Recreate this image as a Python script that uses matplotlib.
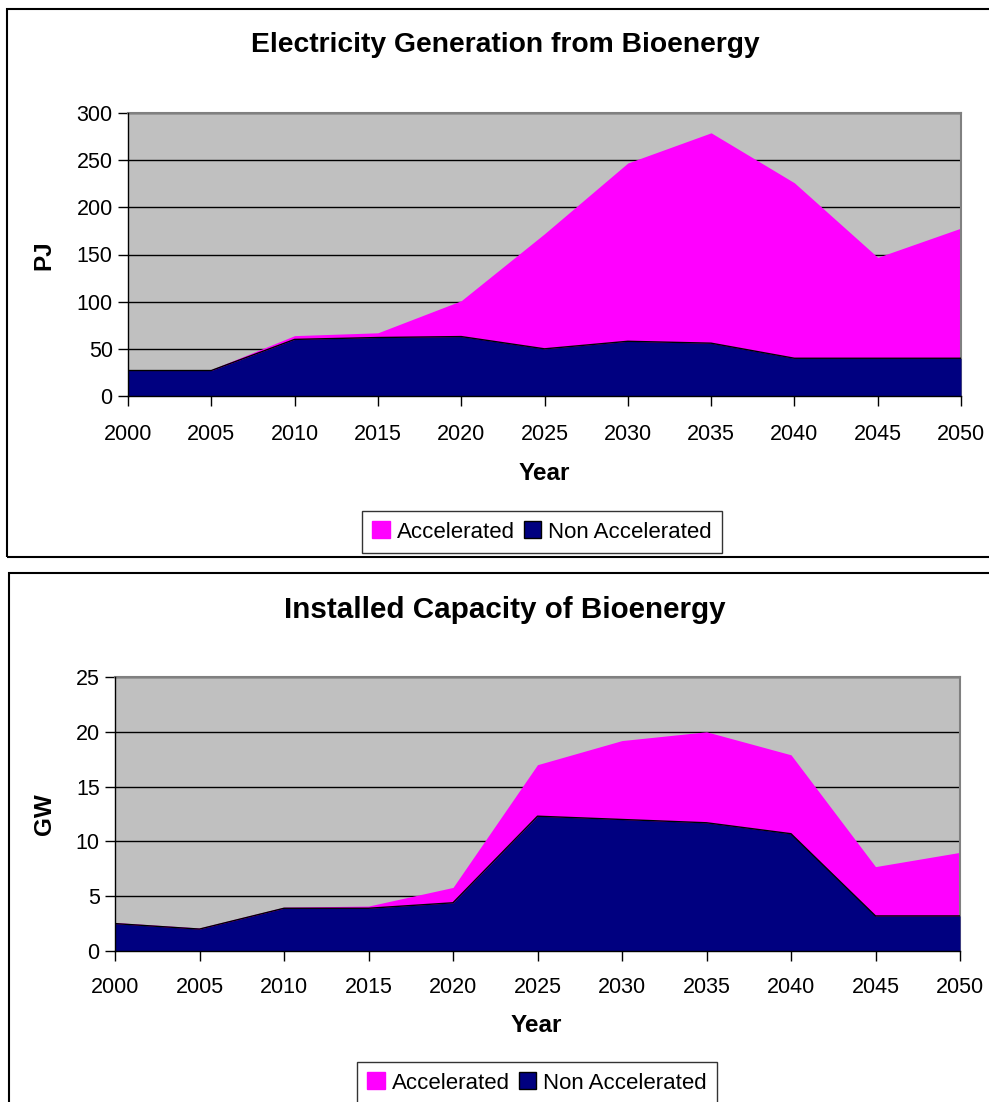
import matplotlib
matplotlib.use("Agg")
import matplotlib.pyplot as plt
from matplotlib.patches import Rectangle, Patch

plt.rcParams['font.family'] = ['Liberation Sans', 'DejaVu Sans']

years = [2000, 2005, 2010, 2015, 2020, 2025, 2030, 2035, 2040, 2045, 2050]

# Electricity generation (PJ)
gen_accelerated = [28, 28, 64, 67, 101, 172, 247, 279, 226, 147, 178]
gen_non_accelerated = [27, 27, 60, 62, 63, 50, 58, 56, 40, 40, 40]

# Installed capacity (GW)
cap_accelerated = [2.6, 2.1, 4.0, 4.1, 5.8, 17.0, 19.2, 20.0, 17.9, 7.7, 9.0]
cap_non_accelerated = [2.5, 2.0, 3.9, 3.9, 4.4, 12.3, 12.0, 11.7, 10.7, 3.2, 3.2]

W, H = 989, 1102
fig = plt.figure(figsize=(W / 100, H / 100), dpi=100)

MAG = '#FF00FF'
NAVY = '#000080'
GREY = '#C0C0C0'


def fx(px):
    return px / W


def fy(py):
    return 1 - py / H


def add_frame(x0, y0, x1, y1):
    fig.patches.append(Rectangle((fx(x0), fy(y1)), fx(x1) - fx(x0), fy(y0) - fy(y1),
                                 transform=fig.transFigure, fill=False,
                                 edgecolor='black', linewidth=1.5, zorder=0))


def panel(box, acc, non, ymax, ystep, ylabel, title, title_y, title_size, ylabel_x, ylabel_y,
          xlabel_y, xlabel_x, leg_center, tick_pad_y):
    l, t, r, b = box
    ax = fig.add_axes([fx(l), fy(b), fx(r) - fx(l), fy(t) - fy(b)])
    ax.set_facecolor(GREY)
    ax.fill_between(years, 0, acc, color=MAG, linewidth=0, zorder=2)
    ax.fill_between(years, 0, non, color=NAVY, linewidth=0, zorder=3)
    ax.plot(years, non, color='black', linewidth=1.0, zorder=4)
    ax.set_xlim(2000, 2050)
    ax.set_ylim(0, ymax)
    ax.set_xticks(years)
    ax.set_yticks([i * ystep for i in range(int(round(ymax / ystep)) + 1)])
    ax.yaxis.grid(True, color='black', linewidth=1.0, zorder=1)
    ax.set_axisbelow(True)
    for s in ['top', 'right']:
        ax.spines[s].set_color('#808080')
        ax.spines[s].set_linewidth(1.5)
    for s in ['left', 'bottom']:
        ax.spines[s].set_color('black')
        ax.spines[s].set_linewidth(1.0)
        ax.spines[s].set_zorder(5)
    ax.tick_params(axis='both', direction='out', length=7, width=1, labelsize=15.5, colors='black')
    ax.tick_params(axis='x', pad=tick_pad_y)
    ax.tick_params(axis='y', pad=4)
    fig.text(fx(505), fy(title_y), title, ha='center', va='center', fontsize=title_size,
             fontweight='bold')
    fig.text(fx(ylabel_x), fy(ylabel_y), ylabel, ha='center', va='center', rotation=90,
             fontsize=17.5, fontweight='bold')
    fig.text(fx(xlabel_x), fy(xlabel_y), 'Year', ha='center', va='center', fontsize=17.5,
             fontweight='bold')
    handles = [Patch(facecolor=MAG, edgecolor=MAG), Patch(facecolor=NAVY, edgecolor='black')]
    leg = fig.legend(handles, ['Accelerated', 'Non Accelerated'], loc='center',
                     bbox_to_anchor=(fx(leg_center[0]), fy(leg_center[1])), ncol=2,
                     fontsize=16, frameon=True, fancybox=False, edgecolor='black',
                     handlelength=0.8, handleheight=0.8, handletextpad=0.3, columnspacing=0.4,
                     borderpad=0.45, borderaxespad=0)
    leg.get_frame().set_linewidth(1.0)
    return ax


add_frame(7, 9, 1000, 557)
add_frame(9, 573, 1000, 1110)

panel((128, 113, 961, 396), gen_accelerated, gen_non_accelerated, 300, 50, 'PJ',
      'Electricity Generation from Bioenergy', 45, 20.3, 44, 255, 473, 544, (542, 532), 13)
panel((115, 677, 960, 951), cap_accelerated, cap_non_accelerated, 25, 5, 'GW',
      'Installed Capacity of Bioenergy', 610, 21.3, 45, 814, 1025, 536, (537, 1083), 12)

fig.savefig('out.png', dpi=100)
